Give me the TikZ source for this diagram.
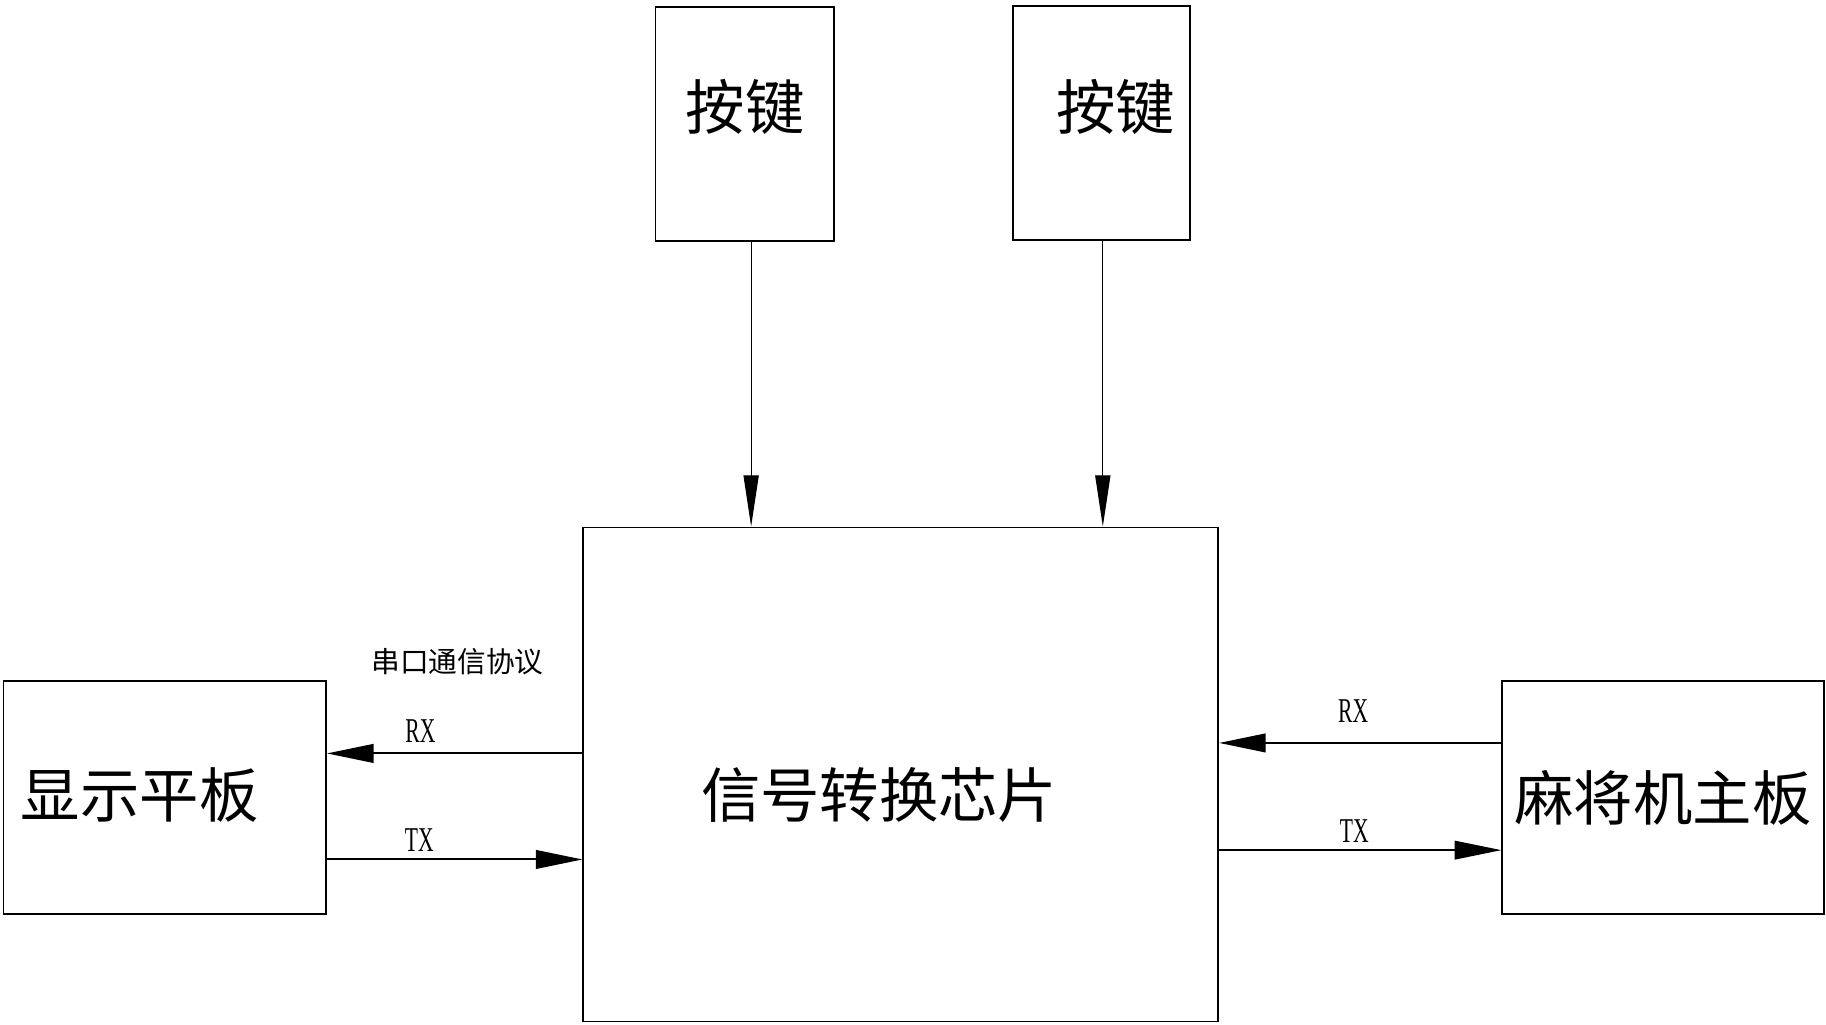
\documentclass[tikz,border=0pt]{standalone}
\usepackage{fontspec}
\setmainfont{Liberation Serif}
\newfontfamily\cjk{Noto Sans CJK SC}
\newfontfamily\sigfont[FakeStretch=0.62]{Liberation Serif}
\usetikzlibrary{arrows.meta, positioning}

\begin{document}
\begin{tikzpicture}[
    x=0.01cm, y=-0.01cm,
    box/.style={rectangle, draw, line width=0.4pt, inner sep=0pt},
    big/.style={font=\cjk\fontsize{14.5}{16}\selectfont, inner sep=0pt},
    note/.style={font=\cjk\fontsize{7}{8}\selectfont, inner sep=0pt},
    sig/.style={font=\sigfont\fontsize{8.5}{9}\selectfont, inner sep=0pt},
    arrow/.style={-{Triangle[length=0.4cm, width=0.16cm]}, line width=0.5pt},
    karrow/.style={-{Triangle[length=0.44cm, width=0.13cm]}, line width=0.3pt}
]
    \useasboundingbox (0,0) rectangle (1568,880);

    \node[box, minimum width=1.53cm, minimum height=2.01cm] (key1) at (639.5,106.5) {};
    \node[box, minimum width=1.52cm, minimum height=2.01cm] (key2) at (946,105.5) {};
    \node[box, minimum width=5.45cm, minimum height=4.24cm] (chip) at (773.5,665) {};
    \node[box, minimum width=2.77cm, minimum height=2.00cm] (disp) at (141.5,685) {};
    \node[box, minimum width=2.76cm, minimum height=2.00cm] (mb) at (1428,685) {};

    \node[big] (key1-t) at (640,92) {按键};
    \node[big] (key2-t) at (958,92) {按键};
    \node[big] (chip-t) at (755,683) {信号转换芯片};
    \node[big] (disp-t) at (120,683) {显示平板};
    \node[big] (mb-t) at (1428,685) {麻将机主板};

    \draw[karrow] ([xshift=0.055cm]key1.south) -- ([xshift=0.055cm]key1.south |- chip.north);
    \draw[karrow] ([xshift=0.01cm]key2.south) -- ([xshift=0.01cm]key2.south |- chip.north);

    \draw[arrow] ([yshift=0.18cm]chip.west) -- ([yshift=0.18cm]chip.west -| disp.east);
    \draw[arrow] ([yshift=-0.73cm]chip.west -| disp.east) -- ([yshift=-0.73cm]chip.west);
    \draw[arrow] ([yshift=0.27cm]chip.east -| mb.west) -- ([yshift=0.27cm]chip.east);
    \draw[arrow, line width=0.35pt] ([yshift=-0.65cm]chip.east) -- ([yshift=-0.65cm]chip.east -| mb.west);

    \node[note] (proto) at (393,568) {串口通信协议};
    \node[sig] (rx-l) at (361,628) {RX};
    \node[sig] (tx-l) at (360,721) {TX};
    \node[sig] (rx-r) at (1162,611) {RX};
    \node[sig] (tx-r) at (1163,714) {TX};
\end{tikzpicture}
\end{document}
